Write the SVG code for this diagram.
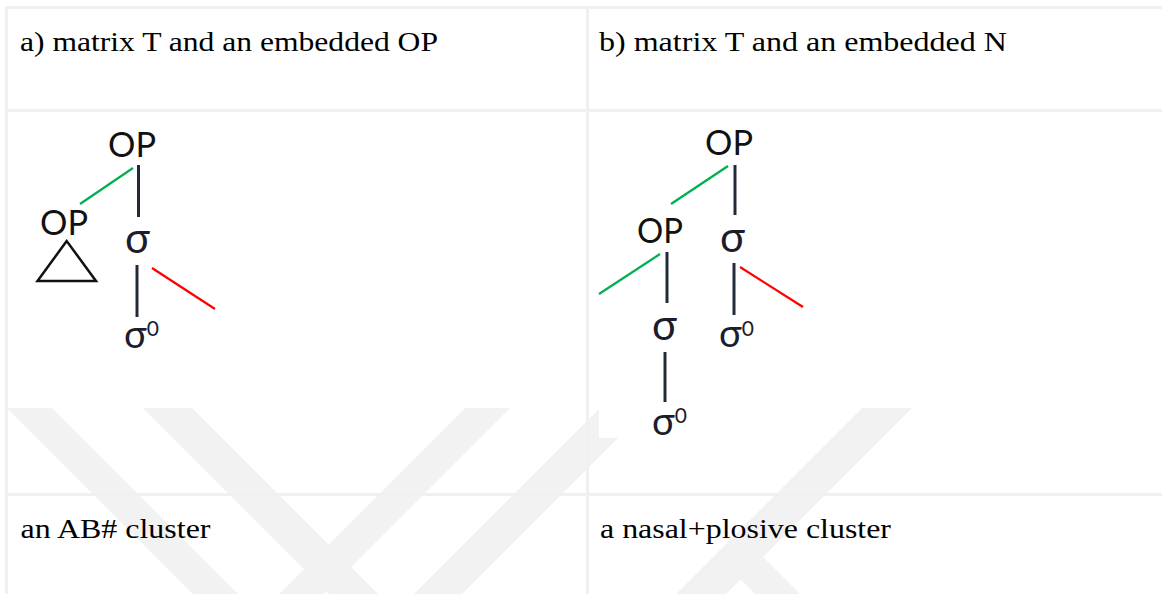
<svg xmlns="http://www.w3.org/2000/svg" width="1162" height="594" viewBox="0 0 1162 594">
<style>
.cap{font-family:"Liberation Serif","Times New Roman",serif;font-size:27px;fill:#000}
.op{font-family:Lato,"Open Sans","Noto Sans",sans-serif;font-size:35px;fill:#111}
.sg{font-family:Lato,"Open Sans","Noto Sans",sans-serif;font-size:42px;fill:#1c1c2c}
.sg0{font-family:Lato,"Open Sans","Noto Sans",sans-serif;font-size:38px;fill:#1c1c2c}
.sup{font-size:21px}
.grid{fill:#f0f0f0}
.wm{fill:#f2f2f2}
.stem{stroke:#222a3a;stroke-width:3;fill:none}
.grn{stroke:#00b050;stroke-width:2.2;fill:none}
.red{stroke:#ff0000;stroke-width:2.2;fill:none}
</style>
<rect width="1162" height="594" fill="#fff"/>
<g id="watermark">
<polygon class="wm" points="7,408 52,408 238,594 193,594"/>
<polygon class="wm" points="143,408 192,408 378,594 329,594"/>
<polygon class="wm" points="465,408 510,408 324,594 279,594"/>
<polygon class="wm" points="600,408 648,408 462,594 414,594"/>
<polygon class="wm" points="862,408 912,408 726,594 676,594"/>
<polygon class="wm" points="716,555 761,555 800,594 755,594"/>
</g>
<g id="table">
<rect class="grid" x="5" y="6" width="1157" height="3"/>
<rect class="grid" x="5" y="6" width="3" height="588"/>
<rect class="grid" x="586" y="6" width="3" height="588"/>
<rect class="grid" x="5" y="109" width="1157" height="3"/>
<rect class="grid" x="5" y="493" width="1157" height="3"/>
</g>
<rect x="599" y="116" width="158" height="322" fill="#fff"/>
<g id="captions">
<text class="cap" x="20" y="51" textLength="418" lengthAdjust="spacingAndGlyphs">a) matrix T and an embedded OP</text>
<text class="cap" x="599" y="51" textLength="408" lengthAdjust="spacingAndGlyphs">b) matrix T and an embedded N</text>
<text class="cap" x="20.5" y="538" textLength="190" lengthAdjust="spacingAndGlyphs">an AB# cluster</text>
<text class="cap" x="600" y="538" textLength="291" lengthAdjust="spacingAndGlyphs">a nasal+plosive cluster</text>
</g>
<g id="connectors">
<line class="grn" x1="133" y1="168" x2="80" y2="204"/>
<line class="stem" x1="138.5" y1="165" x2="138.5" y2="217"/>
<line class="stem" x1="137" y1="265" x2="137" y2="317"/>
<line class="red" x1="152" y1="268" x2="215" y2="309"/>
<line class="grn" x1="728" y1="166" x2="671" y2="204"/>
<line class="stem" x1="735" y1="165" x2="735" y2="215"/>
<line class="grn" x1="660" y1="254" x2="599" y2="294"/>
<line class="stem" x1="667" y1="252" x2="667" y2="303"/>
<line class="stem" x1="734" y1="263" x2="734" y2="315"/>
<line class="red" x1="740" y1="267" x2="803" y2="307"/>
<line class="stem" x1="665" y1="352" x2="665" y2="402"/>
</g>
<g id="a-op-top"><text class="op" x="108" y="157" textLength="48" lengthAdjust="spacingAndGlyphs">OP</text></g>
<g id="a-op-left"><text class="op" x="40" y="235" textLength="48" lengthAdjust="spacingAndGlyphs">OP</text>
<polygon points="66.7,241 37.5,281 96,281" fill="none" stroke="#111" stroke-width="2.5"/></g>
<g id="a-sigma"><text class="sg" x="125" y="253" textLength="25" lengthAdjust="spacingAndGlyphs">σ</text></g>
<g id="a-sigma0"><text class="sg0" x="124" y="348">σ<tspan class="sup" baseline-shift="12">0</tspan></text></g>
<g id="b-op-top"><text class="op" x="705" y="155" textLength="48" lengthAdjust="spacingAndGlyphs">OP</text></g>
<g id="b-op-mid"><text class="op" x="637" y="243" textLength="46" lengthAdjust="spacingAndGlyphs">OP</text></g>
<g id="b-sigma-right"><text class="sg" x="720" y="252" textLength="25" lengthAdjust="spacingAndGlyphs">σ</text></g>
<g id="b-sigma-mid"><text class="sg" x="652" y="340" textLength="25" lengthAdjust="spacingAndGlyphs">σ</text></g>
<g id="b-sigma0-right"><text class="sg0" x="719" y="347">σ<tspan class="sup" baseline-shift="11">0</tspan></text></g>
<g id="b-sigma0-bottom"><text class="sg0" x="652" y="435">σ<tspan class="sup" baseline-shift="12">0</tspan></text></g>
</svg>
